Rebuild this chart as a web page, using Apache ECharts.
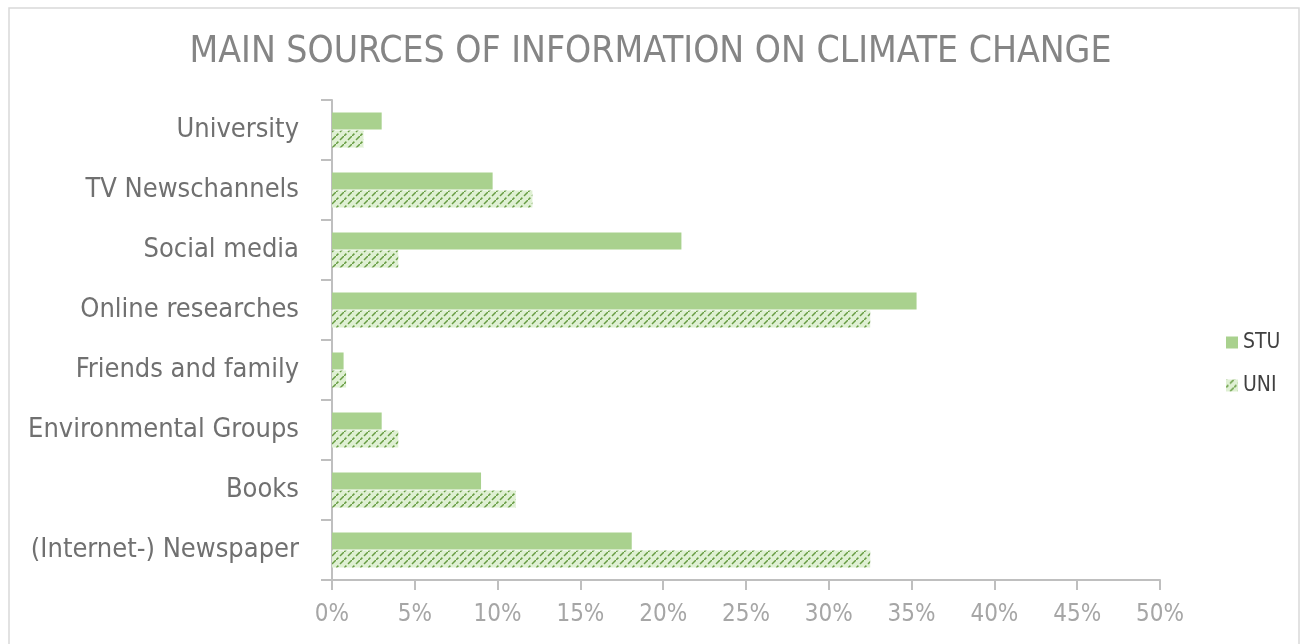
<!DOCTYPE html>
<html>
<head>
<meta charset="utf-8">
<script src="https://cdn.jsdelivr.net/npm/echarts@6/dist/echarts.min.js"></script>
<style>html,body{margin:0;padding:0;background:#fff;}#c{width:1301px;height:644px;}</style>
</head>
<body>
<div id="c"></div>
<script>
const categories = ['University','TV Newschannels','Social media','Online researches','Friends and family','Environmental Groups','Books','(Internet-) Newspaper'];
const stuValues = [3.0, 9.7, 21.1, 35.3, 0.7, 3.0, 9.0, 18.1];
const uniValues = [1.9, 12.1, 4.0, 32.5, 0.85, 4.0, 11.1, 32.5];
const xTicks = [0,5,10,15,20,25,30,35,40,45,50];

function makePattern(){
  const s = 8;
  const cv = document.createElement('canvas');
  cv.width = s; cv.height = s;
  const ctx = cv.getContext('2d');
  ctx.fillStyle = '#dff0d3';
  ctx.fillRect(0,0,s,s);
  ctx.strokeStyle = '#679c42';
  ctx.lineWidth = 1.5;
  ctx.lineCap = 'butt';
  const seg = (a,b)=>{ctx.beginPath();ctx.moveTo(a*s, s - a*s);ctx.lineTo(b*s, s - b*s);ctx.stroke();};
  seg(-0.2,0.3); seg(0.5,1.2);
  return cv;
}
const pattern = {image: makePattern(), repeat: 'repeat'};
const FONT = '"DejaVu Sans Condensed","Liberation Sans Narrow","Liberation Sans",sans-serif';

const chart = echarts.init(document.getElementById('c'), null, {renderer:'canvas'});
chart.setOption({
  animation:false,
  backgroundColor:'#ffffff',
  title:{
    text:'MAIN SOURCES OF INFORMATION ON CLIMATE CHANGE',
    left:'center', top:29,
    textStyle:{fontFamily:FONT, fontSize:37, fontWeight:'normal', color:'#858585'}
  },
  graphic:[{type:'rect', shape:{x:9,y:8,width:1290,height:645}, style:{fill:'none', stroke:'#d9d9d9', lineWidth:1.5}, silent:true}],
  legend:{
    orient:'vertical', left:1221, top:327, itemWidth:12, itemHeight:12, itemGap:22,
    icon:'rect',
    textStyle:{fontFamily:FONT, fontSize:21, color:'#404040'},
    data:['STU','UNI']
  },
  grid:{left:332, right:141, top:100, bottom:64, containLabel:false, outerBoundsMode:'none'},
  xAxis:{
    type:'value', min:0, max:50, interval:5,
    axisLine:{show:true, lineStyle:{color:'#bfbfbf', width:2}},
    axisTick:{show:true, length:10, lineStyle:{color:'#bfbfbf', width:2}},
    splitLine:{show:false},
    axisLabel:{formatter: v => xTicks.includes(v) ? v + '%' : '', margin:23, fontFamily:FONT, fontSize:24, color:'#a6a6a6'}
  },
  yAxis:{
    type:'category', data:categories, inverse:true,
    axisLine:{show:true, lineStyle:{color:'#bfbfbf', width:2}},
    axisTick:{show:true, length:11, lineStyle:{color:'#bfbfbf', width:2}},
    axisLabel:{margin:33, fontFamily:FONT, fontSize:27, color:'#707070'}
  },
  series:[
    {name:'STU', type:'bar', data:stuValues, barWidth:17, barGap:'6%', itemStyle:{color:'#a9d18e'}},
    {name:'UNI', type:'bar', data:uniValues, barWidth:17, itemStyle:{color:pattern}}
  ]
});
</script>
</body>
</html>
